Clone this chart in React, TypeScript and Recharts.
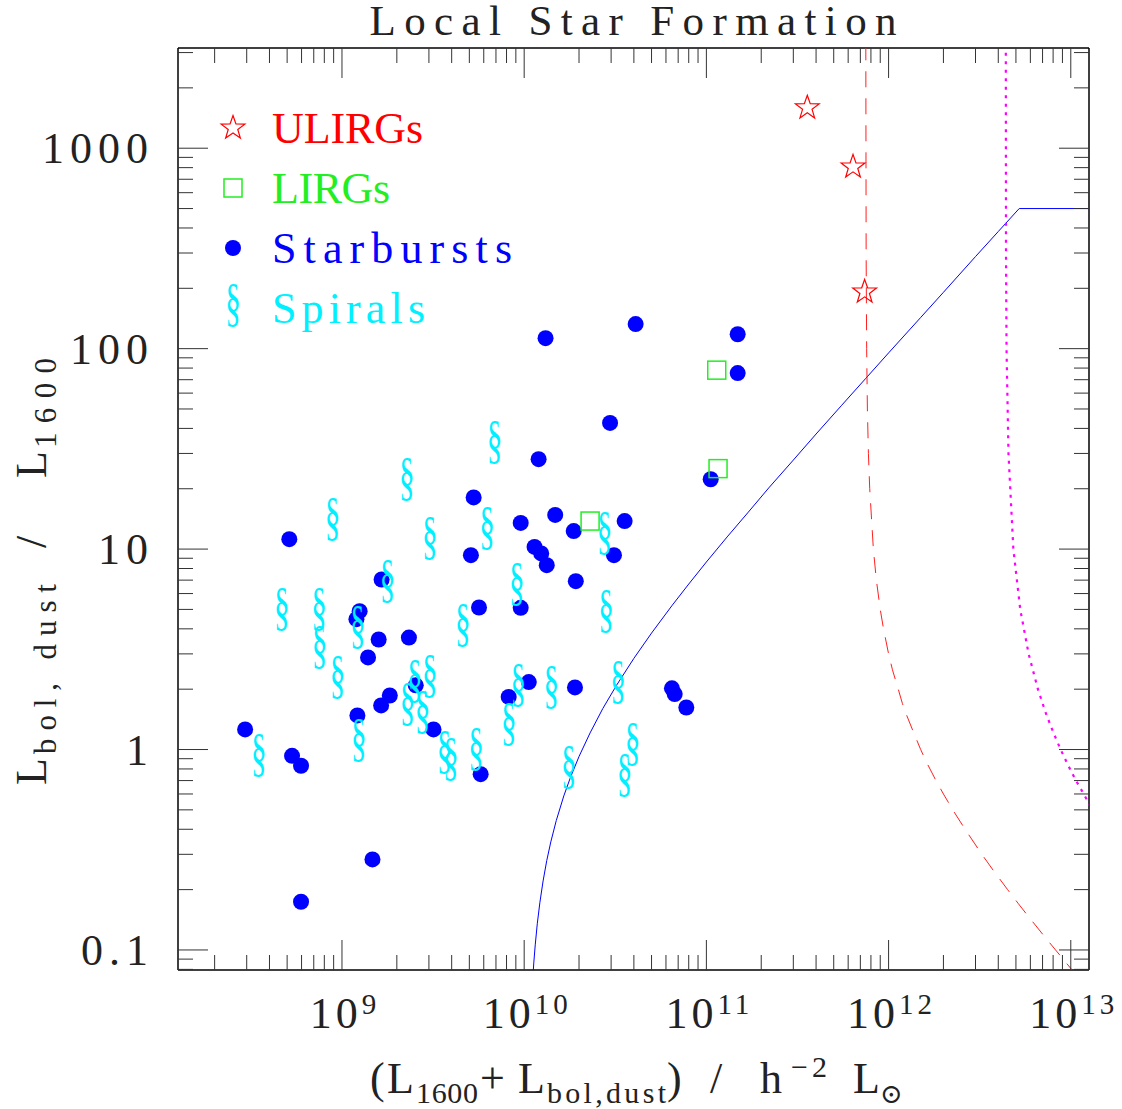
import { ScatterChart, Scatter, XAxis, YAxis, Legend, Customized } from 'recharts';

const FONT = '"Liberation Serif", "DejaVu Serif", serif';
const INK = '#222';
const TICK = '#333';

// axis ranges (log)
const X_MIN = 1.2589e8;
const X_MAX = 1.2589e13;
const Y_MIN = 0.07943;
const Y_MAX = 3162;

const xMajors = [1e9, 1e10, 1e11, 1e12, 1e13];
const yMajors = [0.1, 1, 10, 100, 1000];
const minorSteps = [2, 3, 4, 5, 6, 7, 8, 9];

const xTicks = [1e8, ...xMajors]
  .flatMap((m) => [m, ...minorSteps.map((k) => k * m)])
  .filter((v) => v >= X_MIN && v <= X_MAX);
const yTicks = [0.01, ...yMajors]
  .flatMap((m) => [m, ...minorSteps.map((k) => k * m)])
  .filter((v) => v >= Y_MIN && v <= Y_MAX);

// Starbursts
const starburstX = [
  2.94e8, 5.14e8, 5.32e8, 5.96e8, 5.96e8, 1.2e9, 1.25e9, 1.215e9, 1.39e9, 1.47e9, 1.59e9,
  1.65e9, 1.64e9, 1.83e9, 2.33e9, 2.54e9, 3.18e9, 5.1e9, 5.28e9, 5.65e9, 5.77e9, 8.22e9,
  9.57e9, 9.57e9, 1.06e10, 1.14e10, 1.24e10, 1.33e10, 1.2e10, 1.31e10, 1.48e10, 1.87e10,
  1.9e10, 1.92e10, 2.96e10, 3.11e10, 3.56e10, 4.09e10, 6.47e10, 6.7e10, 7.76e10, 1.056e11,
  1.485e11, 1.485e11,
];
const starburstY = [
  1.26, 11.2, 0.93, 0.83, 0.174, 4.47, 4.9, 1.48, 2.88, 0.283, 3.54,
  7.05, 1.66, 1.86, 3.62, 2.09, 1.26, 9.32, 18.1, 5.11, 0.753, 1.83,
  13.5, 5.09, 2.17, 10.25, 9.51, 8.31, 28.1, 112.8, 14.8, 12.3,
  2.04, 6.92, 42.6, 9.32, 13.8, 132.6, 2.02, 1.89, 1.62, 22.3,
  118, 75.5,
];

// Spirals
const spiralX = [
  3.49e8, 4.67e8, 7.48e8, 7.52e8, 8.89e8, 9.47e8, 1.22e9, 1.235e9, 1.78e9, 2.27e9, 2.29e9,
  2.51e9, 2.77e9, 3.03e9, 3.03e9, 3.65e9, 3.96e9, 4.61e9, 5.44e9, 6.25e9, 6.87e9, 8.24e9,
  9.1e9, 9.29e9, 1.41e10, 1.76e10, 2.76e10, 2.81e10, 3.27e10, 3.93e10, 3.56e10,
];
const spiralY = [
  0.902, 4.88, 4.83, 3.13, 13.7, 2.21, 3.94, 1.08, 6.66, 21.6, 1.63,
  2.12, 1.48, 2.24, 11.0, 0.937, 0.867, 4.02, 0.973, 12.3, 33.0, 1.3,
  6.45, 2.02, 1.98, 0.788, 11.6, 4.73, 2.09, 1.03, 0.717,
];

// LIRGs
const lirgX = [1.159e11, 2.3e10, 1.14e11];
const lirgY = [25.2, 13.8, 78.1];

// ULIRGs
const ulirgX = [3.58e11, 6.38e11, 7.39e11];
const ulirgY = [1591, 807, 192];

// model curves
const blueX = [
  1.12e10, 1.13e10, 1.15e10, 1.18e10, 1.22e10, 1.27e10, 1.33e10, 1.4e10, 1.5e10, 1.65e10,
  1.8e10, 2e10, 2.3e10, 2.7e10, 3.2e10, 4e10, 5e10, 6.5e10, 8e10, 1e11, 1.3e11, 1.7e11,
  2.2e11, 3e11, 4e11, 5.5e11, 7.5e11, 1e12, 1.5e12, 2e12, 3e12, 4e12, 5.21e12, 1.3e13,
];
const blueY = [
  0.077, 0.087, 0.106, 0.135, 0.173, 0.221, 0.279, 0.346, 0.442, 0.587,
  0.731, 0.923, 1.21, 1.6, 2.08, 2.85, 3.81, 5.25, 6.69, 8.62, 11.5, 15.3,
  20.2, 27.8, 37.5, 51.9, 71.1, 95.2, 143, 191, 288, 384, 500, 500,
];

const redX = [
  7.5e11, 7.53e11, 7.58e11, 7.65e11, 7.75e11, 7.88e11, 8.25e11, 8.57e11, 9.0e11, 9.38e11,
  1.0e12, 1.05e12, 1.13e12, 1.19e12, 1.25e12, 1.38e12, 1.5e12, 1.63e12, 1.82e12, 2.0e12,
  2.25e12, 2.63e12, 3.25e12, 3.75e12, 4.5e12, 5.16e12, 5.75e12, 7.0e12, 8.25e12, 9.08e12,
  1.01e13, 1.08e13,
];
const redY = [
  3300, 300, 100, 50, 30, 20, 10, 7, 5, 4,
  3, 2.5, 2, 1.7, 1.5, 1.2, 1, 0.85, 0.7, 0.6,
  0.5, 0.4, 0.3, 0.25, 0.2, 0.17, 0.15, 0.12, 0.1, 0.09,
  0.08, 0.075,
];

const magentaX = [
  4.4e12, 4.41e12, 4.44e12, 4.55e12, 4.84e12, 5.28e12, 5.87e12, 6.6e12, 7.33e12, 8.07e12,
  8.8e12, 9.29e12, 9.9e12, 1.068e13, 1.12e13, 1.26e13, 1.32e13,
];
const magentaY = [3300, 300, 100, 30, 10, 5, 3, 2, 1.5, 1.2, 1, 0.9, 0.8, 0.7, 0.65, 0.537, 0.5];

const toPoints = (xs: number[], ys: number[]) => xs.map((x, i) => ({ x, y: ys[i] }));

const starbursts = toPoints(starburstX, starburstY);
const spirals = toPoints(spiralX, spiralY);
const lirgs = toPoints(lirgX, lirgY);
const ulirgs = toPoints(ulirgX, ulirgY);
const blueModel = toPoints(blueX, blueY);
const redModel = toPoints(redX, redY);
const magentaModel = toPoints(magentaX, magentaY);

const isMajor = (v: number) => Math.abs(Math.log10(v) - Math.round(Math.log10(v))) < 1e-6;

function starPoints(cx: number, cy: number, R: number, r: number) {
  const pts: string[] = [];
  for (let i = 0; i < 10; i++) {
    const a = -Math.PI / 2 + (i * Math.PI) / 5;
    const rad = i % 2 === 0 ? R : r;
    pts.push(`${cx + rad * Math.cos(a)},${cy + rad * Math.sin(a)}`);
  }
  return pts.join(' ');
}

const StarShape = ({ cx, cy }: any) => (
  <polygon points={starPoints(cx, cy, 12.5, 5)} fill="none" stroke="#ff0000" strokeWidth={1.2} />
);
const SquareShape = ({ cx, cy }: any) => (
  <rect x={cx - 9} y={cy - 9} width={18} height={18} fill="none" stroke="#22ee22" strokeWidth={1.5} />
);
const DotShape = ({ cx, cy }: any) => <circle cx={cx} cy={cy} r={8} fill="#0000ff" />;
const SpiralShape = ({ cx, cy }: any) => (
  <text
    transform={`translate(${cx} ${cy + 12}) scale(0.6 1)`}
    textAnchor="middle"
    fontSize={52}
    fontFamily={FONT}
    fill="#00f0ff"
  >
    §
  </text>
);
const NoShape = () => <g />;

const BottomTick = ({ x, y, payload }: any) => {
  const v = payload.value;
  const major = isMajor(v);
  return (
    <g>
      <line x1={x} x2={x} y1={y} y2={y - (major ? 30 : 15)} stroke={TICK} />
      {major && (
        <text x={x + 3} y={y + 58} textAnchor="middle" fontSize={44} fontFamily={FONT} fill={INK} letterSpacing={4}>
          10
          <tspan dy={-14} fontSize={29}>
            {Math.round(Math.log10(v))}
          </tspan>
        </text>
      )}
    </g>
  );
};

const TopTick = ({ x, y, payload }: any) => {
  const major = isMajor(payload.value);
  return <line x1={x} x2={x} y1={y} y2={y + (major ? 30 : 15)} stroke={TICK} />;
};

const LeftTick = ({ x, y, payload }: any) => {
  const v = payload.value;
  const major = isMajor(v);
  return (
    <g>
      <line x1={x} x2={x + (major ? 30 : 15)} y1={y} y2={y} stroke={TICK} />
      {major && (
        <text x={x - 24} y={y + 15} textAnchor="end" fontSize={44} fontFamily={FONT} fill={INK} letterSpacing={6}>
          {String(v)}
        </text>
      )}
    </g>
  );
};

const RightTick = ({ x, y, payload }: any) => {
  const major = isMajor(payload.value);
  return <line x1={x - (major ? 30 : 15)} x2={x} y1={y} y2={y} stroke={TICK} />;
};

const Labels = () => (
  <g fontFamily={FONT} fill={INK}>
    <text x={633} y={35} textAnchor="middle" fontSize={43} textLength={527} lengthAdjust="spacing">
      Local Star Formation
    </text>
    <text fontSize={44}>
      <tspan x={370} y={1093}>(</tspan>
      <tspan x={387} y={1093}>L</tspan>
      <tspan x={416} y={1103} fontSize={30} textLength={62} lengthAdjust="spacing">1600</tspan>
      <tspan x={480} y={1093}>+</tspan>
      <tspan x={518} y={1093}>L</tspan>
      <tspan x={547} y={1103} fontSize={30} textLength={119} lengthAdjust="spacing">bol,dust</tspan>
      <tspan x={667} y={1093}>)</tspan>
      <tspan x={710} y={1093}>/</tspan>
      <tspan x={760} y={1093}>h</tspan>
      <tspan x={791} y={1077} fontSize={30} textLength={36} lengthAdjust="spacing">−2</tspan>
      <tspan x={853} y={1093}>L</tspan>
      <tspan x={880} y={1103} fontSize={27}>⊙</tspan>
    </text>
    <text transform="translate(46 0) rotate(-90)" fontSize={44}>
      <tspan x={-785} y={0}>L</tspan>
      <tspan x={-754} y={10} fontSize={31} textLength={170} lengthAdjust="spacing">bol, dust</tspan>
      <tspan x={-548} y={0}>/</tspan>
      <tspan x={-478} y={0}>L</tspan>
      <tspan x={-448} y={10} fontSize={31} textLength={90} lengthAdjust="spacing">1600</tspan>
    </text>
  </g>
);

const legendRows = [
  { label: 'ULIRGs', color: '#ff0000', width: 151, kind: 'star' },
  { label: 'LIRGs', color: '#22ee22', width: 118, kind: 'square' },
  { label: 'Starbursts', color: '#0000ff', width: 240, kind: 'dot' },
  { label: 'Spirals', color: '#00f0ff', width: 153, kind: 'spiral' },
];

const LegendBox = () => (
  <svg width={340} height={250} style={{ display: 'block' }}>
    {legendRows.map((row, i) => {
      const cy = 38 + i * 60;
      const sx = 33;
      let symbol;
      if (row.kind === 'star') symbol = <StarShape cx={sx} cy={cy} />;
      else if (row.kind === 'square') symbol = <SquareShape cx={sx} cy={cy} />;
      else if (row.kind === 'dot') symbol = <DotShape cx={sx} cy={cy} />;
      else symbol = <SpiralShape cx={sx} cy={cy} />;
      return (
        <g key={row.label}>
          {symbol}
          <text
            x={72}
            y={cy + 15}
            fontSize={44}
            fontFamily={FONT}
            fill={row.color}
            textLength={row.width}
            lengthAdjust="spacing"
          >
            {row.label}
          </text>
        </g>
      );
    })}
  </svg>
);

const axisLine = { stroke: '#000', strokeWidth: 1.5 };

export default function App() {
  return (
    <div style={{ position: 'absolute', left: 0, top: 0, background: '#fff' }}>
      <ScatterChart width={1122} height={1109} margin={{ top: 0, right: 0, bottom: 0, left: 0 }}>
        <XAxis
          type="number"
          dataKey="x"
          scale="log"
          domain={[X_MIN, X_MAX]}
          allowDataOverflow
          ticks={xTicks}
          interval={0}
          height={139}
          tickSize={0}
          tickMargin={0}
          tickLine={false}
          axisLine={axisLine}
          tick={(p: any) => <BottomTick {...p} />}
        />
        <XAxis
          xAxisId="top"
          orientation="top"
          type="number"
          dataKey="x"
          scale="log"
          domain={[X_MIN, X_MAX]}
          allowDataOverflow
          ticks={xTicks}
          interval={0}
          height={48}
          tickSize={0}
          tickMargin={0}
          tickLine={false}
          axisLine={axisLine}
          tick={(p: any) => <TopTick {...p} />}
        />
        <YAxis
          type="number"
          dataKey="y"
          scale="log"
          domain={[Y_MIN, Y_MAX]}
          allowDataOverflow
          ticks={yTicks}
          interval={0}
          width={178}
          tickSize={0}
          tickMargin={0}
          tickLine={false}
          axisLine={axisLine}
          tick={(p: any) => <LeftTick {...p} />}
        />
        <YAxis
          yAxisId="right"
          orientation="right"
          type="number"
          dataKey="y"
          scale="log"
          domain={[Y_MIN, Y_MAX]}
          allowDataOverflow
          ticks={yTicks}
          interval={0}
          width={33}
          tickSize={0}
          tickMargin={0}
          tickLine={false}
          axisLine={axisLine}
          tick={(p: any) => <RightTick {...p} />}
        />
        <Scatter
          data={blueModel}
          fill="#0000ff"
          line={{ stroke: '#0000ff', strokeWidth: 1 }}
          shape={NoShape}
          isAnimationActive={false}
        />
        <Scatter
          data={redModel}
          fill="#ff0000"
          line={{ stroke: '#ff2020', strokeWidth: 1, strokeDasharray: '16 11' }}
          shape={NoShape}
          isAnimationActive={false}
        />
        <Scatter
          data={magentaModel}
          fill="#ff00ff"
          line={{ stroke: '#ff00ff', strokeWidth: 2.2, strokeDasharray: '3 5.5' }}
          shape={NoShape}
          isAnimationActive={false}
        />
        <Scatter name="Starbursts" data={starbursts} shape={DotShape} isAnimationActive={false} />
        <Scatter name="Spirals" data={spirals} shape={SpiralShape} isAnimationActive={false} />
        <Scatter name="LIRGs" data={lirgs} shape={SquareShape} isAnimationActive={false} />
        <Scatter name="ULIRGs" data={ulirgs} shape={StarShape} isAnimationActive={false} />
        <Legend
          layout="vertical"
          align="center"
          verticalAlign="middle"
          wrapperStyle={{ left: 200, top: 90, width: 340, height: 250 }}
          content={() => <LegendBox />}
        />
        <Customized component={Labels} />
      </ScatterChart>
    </div>
  );
}
